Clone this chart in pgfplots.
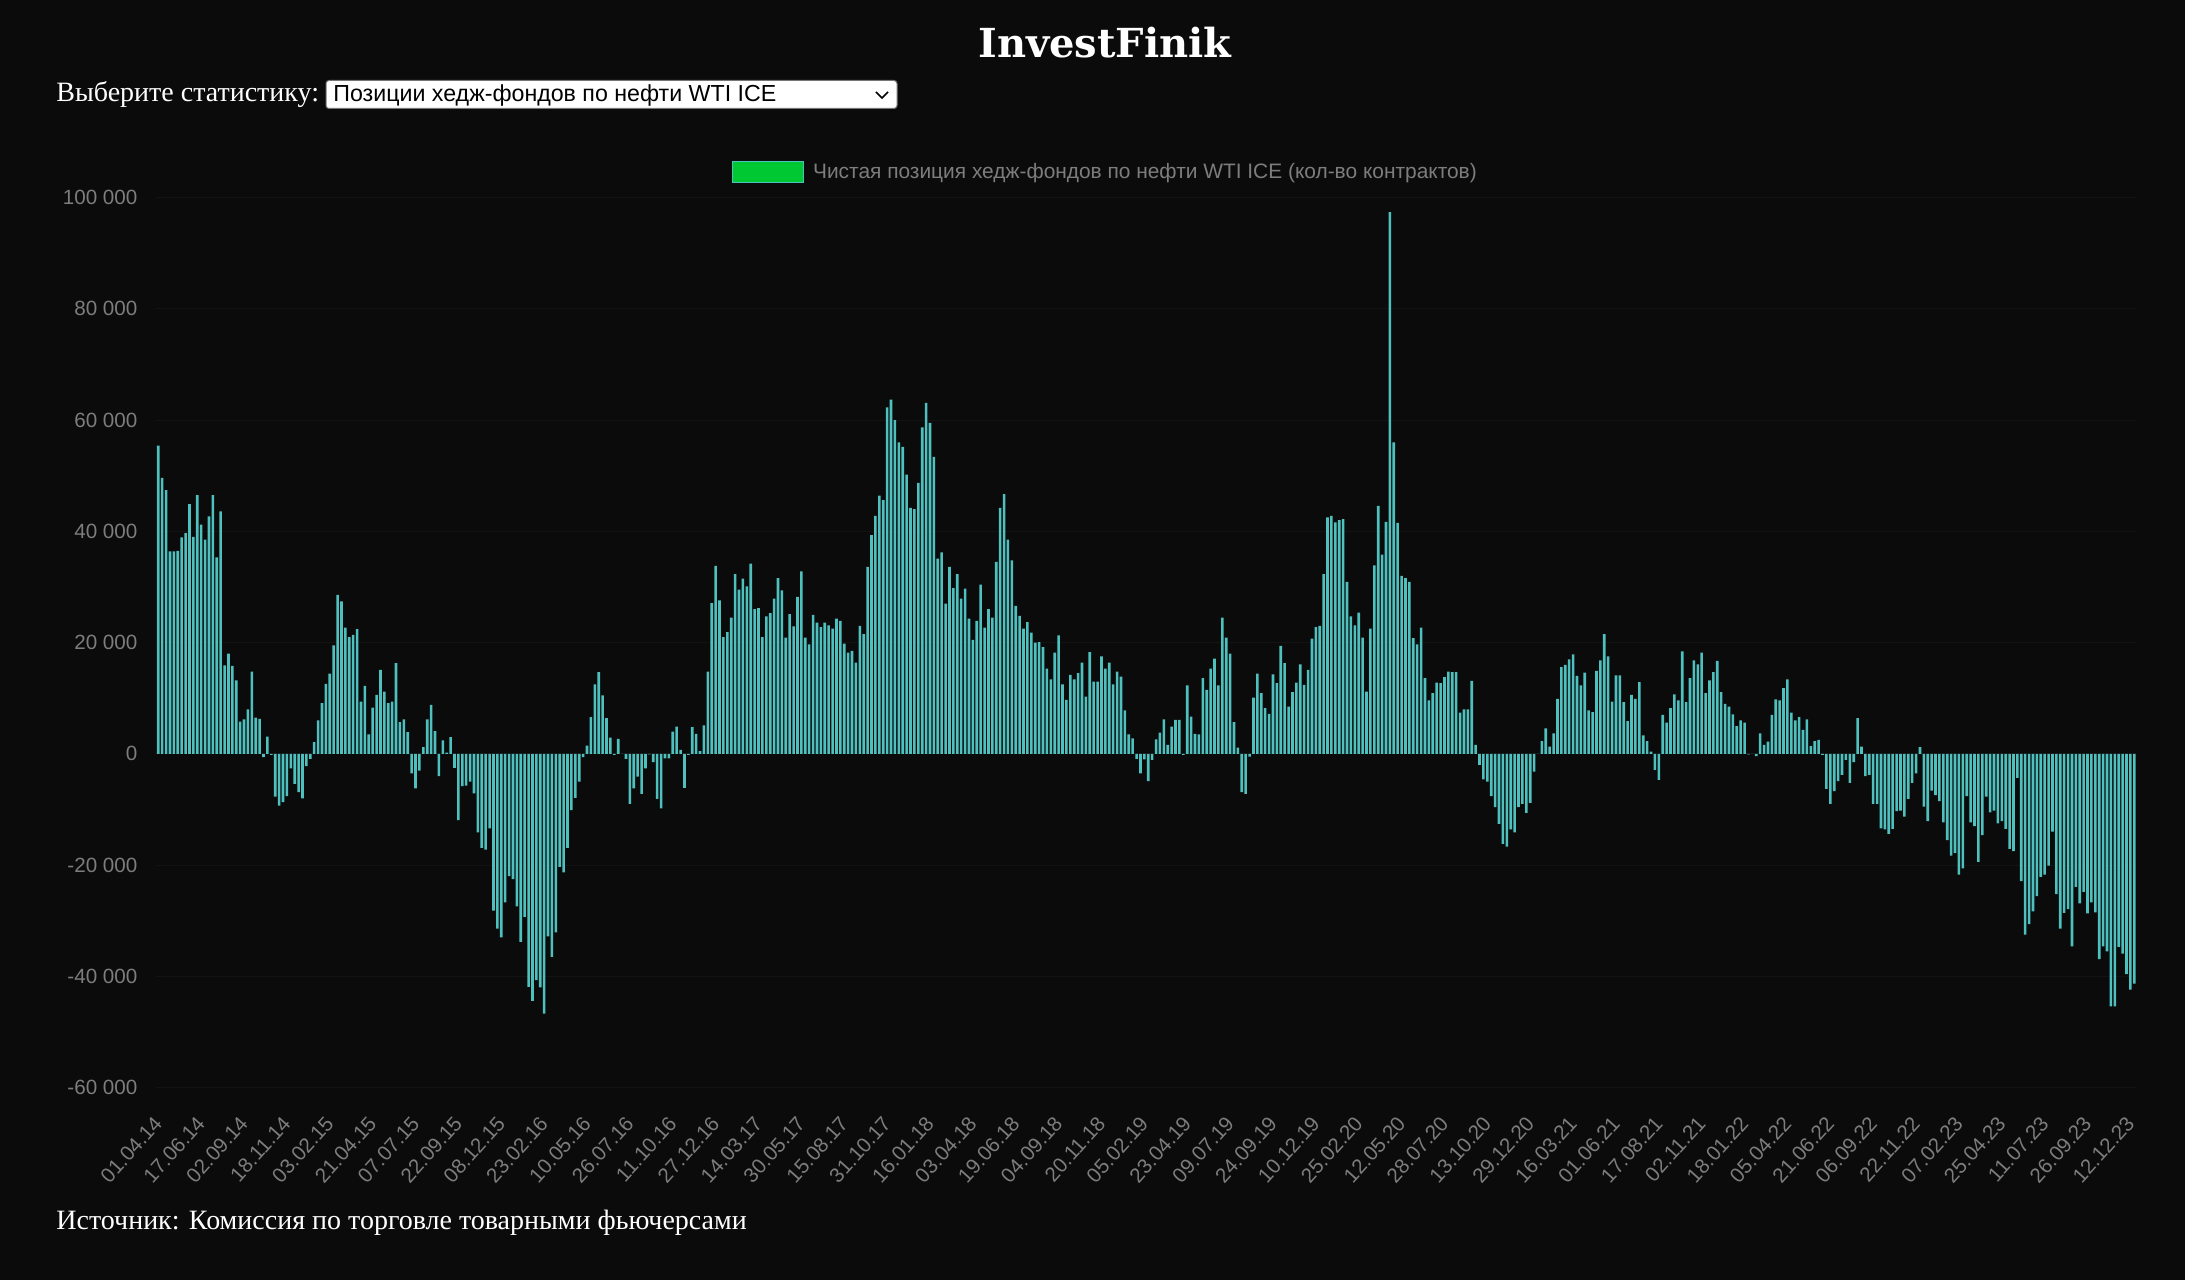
\documentclass[border=0pt]{standalone}
\usepackage{pgfplots}
\pgfplotsset{compat=1.18}
\usepackage{pgfplotstable}
\usepackage{fontspec}
\setmainfont{Liberation Serif}
\newfontfamily\arial{Liberation Sans}
\newfontfamily\titlefont{DejaVu Serif}
\definecolor{bg}{RGB}{11,11,11}
\definecolor{barc}{RGB}{78,192,190}
\definecolor{tickc}{RGB}{125,125,125}
\definecolor{gridc}{RGB}{19,19,19}
\definecolor{legg}{RGB}{0,200,50}
\definecolor{boxborder}{RGB}{118,118,118}

\pgfplotstableread[row sep=\\]{v\\
55400\\ 49600\\ 47400\\ 36400\\ 36400\\ 36500\\ 38900\\ 39700\\ 44900\\ 39000\\
46500\\ 41200\\ 38500\\ 42700\\ 46500\\ 35300\\ 43600\\ 15900\\ 18000\\ 15800\\
13200\\ 5800\\ 6200\\ 8000\\ 14800\\ 6500\\ 6300\\ -600\\ 3100\\ -200\\
-7700\\ -9300\\ -8700\\ -7600\\ -2600\\ -5400\\ -6900\\ -8000\\ -2200\\ -900\\
2100\\ 6000\\ 9100\\ 12600\\ 14400\\ 19500\\ 28600\\ 27400\\ 22700\\ 21000\\
21400\\ 22400\\ 9400\\ 12200\\ 3500\\ 8300\\ 10600\\ 15100\\ 11200\\ 9100\\
9400\\ 16300\\ 5700\\ 6200\\ 3900\\ -3500\\ -6200\\ -3000\\ 1200\\ 6200\\
8800\\ 4100\\ -4000\\ 2400\\ 200\\ 3000\\ -2500\\ -11900\\ -5800\\ -5700\\
-5000\\ -7100\\ -14100\\ -16900\\ -17200\\ -13400\\ -28200\\ -31400\\ -33000\\ -26700\\
-22000\\ -22500\\ -27400\\ -33800\\ -29300\\ -41900\\ -44400\\ -40700\\ -42000\\ -46700\\
-32800\\ -36500\\ -32100\\ -20300\\ -21300\\ -16900\\ -10100\\ -7900\\ -5000\\ -600\\
1500\\ 6600\\ 12500\\ 14700\\ 10500\\ 6400\\ 2900\\ -200\\ 2700\\ 0\\
-900\\ -9000\\ -6200\\ -4100\\ -7200\\ -2600\\ -100\\ -1500\\ -8100\\ -9800\\
-800\\ -800\\ 4000\\ 4900\\ 700\\ -6100\\ -200\\ 4800\\ 3600\\ 500\\
5100\\ 14800\\ 27100\\ 33800\\ 27600\\ 21000\\ 21900\\ 24500\\ 32300\\ 29500\\
31500\\ 30100\\ 34200\\ 26000\\ 26200\\ 21000\\ 24700\\ 25300\\ 27900\\ 31600\\
29400\\ 20900\\ 25100\\ 22900\\ 28200\\ 32800\\ 20900\\ 19700\\ 25000\\ 23600\\
22800\\ 23600\\ 23100\\ 22500\\ 24300\\ 23900\\ 19800\\ 18200\\ 18500\\ 16400\\
23000\\ 21500\\ 33600\\ 39300\\ 42800\\ 46400\\ 45600\\ 62300\\ 63700\\ 60000\\
56000\\ 55200\\ 50200\\ 44200\\ 44000\\ 48700\\ 58700\\ 63100\\ 59500\\ 53400\\
35100\\ 36200\\ 27000\\ 33600\\ 29800\\ 32300\\ 27900\\ 29700\\ 24300\\ 20500\\
23900\\ 30400\\ 22700\\ 26000\\ 24500\\ 34500\\ 44200\\ 46700\\ 38500\\ 34800\\
26600\\ 24800\\ 22500\\ 23700\\ 21800\\ 20000\\ 20100\\ 19200\\ 15300\\ 13400\\
18200\\ 21300\\ 12500\\ 9700\\ 14200\\ 13400\\ 14500\\ 16400\\ 10300\\ 18300\\
13000\\ 13000\\ 17500\\ 15300\\ 16400\\ 12500\\ 14800\\ 13900\\ 7800\\ 3500\\
2800\\ -900\\ -3500\\ -1000\\ -4900\\ -1100\\ 2600\\ 3800\\ 6200\\ 1600\\
4900\\ 6100\\ 6100\\ -200\\ 12300\\ 6700\\ 3600\\ 3500\\ 13600\\ 11500\\
15300\\ 17100\\ 12300\\ 24500\\ 20900\\ 18000\\ 5700\\ 1100\\ -6900\\ -7200\\
-500\\ 10100\\ 14400\\ 10900\\ 8200\\ 7200\\ 14300\\ 12700\\ 19400\\ 16300\\
8500\\ 11100\\ 12800\\ 16100\\ 12400\\ 15100\\ 20700\\ 22800\\ 23000\\ 32300\\
42500\\ 42800\\ 41600\\ 42000\\ 42200\\ 30900\\ 24700\\ 23100\\ 25400\\ 20900\\
11200\\ 22500\\ 33900\\ 44600\\ 35800\\ 41700\\ 97400\\ 56000\\ 41500\\ 32000\\
31600\\ 30900\\ 20800\\ 19700\\ 22700\\ 13600\\ 9600\\ 10900\\ 12800\\ 12700\\
13800\\ 14800\\ 14700\\ 14700\\ 7400\\ 8000\\ 8000\\ 13100\\ 1600\\ -2000\\
-4600\\ -5000\\ -7600\\ -9600\\ -12600\\ -16200\\ -16700\\ -13600\\ -14100\\ -9600\\
-9000\\ -10600\\ -8800\\ -3200\\ 0\\ 2300\\ 4600\\ 1300\\ 3700\\ 9900\\
15600\\ 16000\\ 17000\\ 17900\\ 14000\\ 12300\\ 14600\\ 7800\\ 7500\\ 14900\\
16800\\ 21500\\ 17500\\ 9400\\ 14100\\ 14100\\ 9300\\ 5900\\ 10600\\ 9900\\
12900\\ 3300\\ 2300\\ 400\\ -2900\\ -4700\\ 7000\\ 5600\\ 8200\\ 10700\\
9600\\ 18400\\ 9300\\ 13600\\ 16800\\ 16100\\ 18200\\ 10900\\ 13200\\ 14700\\
16700\\ 11100\\ 9000\\ 8500\\ 7100\\ 5000\\ 6000\\ 5600\\ -100\\ 0\\
-400\\ 3700\\ 1600\\ 2200\\ 7000\\ 9800\\ 9600\\ 11800\\ 13400\\ 7400\\
6000\\ 6600\\ 4300\\ 6200\\ 1400\\ 2300\\ 2500\\ -200\\ -6300\\ -9000\\
-6700\\ -4900\\ -3800\\ -1100\\ -5200\\ -1500\\ 6400\\ 1300\\ -4000\\ -3800\\
-9000\\ -9000\\ -13400\\ -13600\\ -14400\\ -13500\\ -10300\\ -10200\\ -11300\\ -8100\\
-5200\\ -3500\\ 1200\\ -9500\\ -12100\\ -6600\\ -7400\\ -8500\\ -12300\\ -15500\\
-18300\\ -17800\\ -21700\\ -20600\\ -7600\\ -12300\\ -13000\\ -19400\\ -14600\\ -7700\\
-10500\\ -10200\\ -12500\\ -12100\\ -13500\\ -17100\\ -17500\\ -4300\\ -22900\\ -32500\\
-30600\\ -28300\\ -25600\\ -22100\\ -21700\\ -20100\\ -14000\\ -25200\\ -31400\\ -28600\\
-27900\\ -34600\\ -23900\\ -26900\\ -24800\\ -28700\\ -26700\\ -28500\\ -36900\\ -34600\\
-35500\\ -45400\\ -45400\\ -34700\\ -35900\\ -39600\\ -42400\\ -41300\\
}\netdata

\begin{document}
\begin{tikzpicture}
\begin{scope}[x=0.5pt,y=0.5pt]
\useasboundingbox (0,0) rectangle (2185,1280);
\fill[bg] (0,0) rectangle (2185,1280);
\node[text=white, font=\titlefont\bfseries\fontsize{20}{24}\selectfont] at (1105,1237) {InvestFinik};
\node[text=white, anchor=west, inner sep=0pt, font=\fontsize{14}{17}\selectfont] at (56,1185) {Выберите статистику:};
\draw[fill=white, draw=boxborder, rounded corners=1.5pt, line width=0.5pt] (326,1199.5) rectangle (897,1171.5);
\node[anchor=west, inner sep=0pt, text=black, font=\arial\fontsize{11.6}{14}\selectfont] at (333,1184) {Позиции хедж-фондов по нефти WTI ICE};
\draw[line width=0.8pt, black] (876,1188) -- (882,1182) -- (888,1188);
\node[text=white, anchor=west, inner sep=0pt, font=\fontsize{14}{17}\selectfont] at (56,57) {Источник: Комиссия по торговле товарными фьючерсами};
\end{scope}

\begin{axis}[
  at={(78.175pt,96.2pt)}, anchor=south west,
  width=989.95pt, height=445pt, scale only axis,
  xmin=-0.5, xmax=507.5, ymin=-60000, ymax=100000,
  scaled y ticks=false,
  ybar, bar width=1.3pt,
  axis line style={draw=none},
  tick style={draw=none},
  major tick length=0pt,
  ytick={-60000,-40000,-20000,0,20000,40000,60000,80000,100000},
  yticklabels={-60 000,-40 000,-20 000,0,20 000,40 000,60 000,80 000,100 000},
  xtick={0,11,...,506},
  xticklabels={01.04.14,17.06.14,02.09.14,18.11.14,03.02.15,21.04.15,07.07.15,22.09.15,08.12.15,23.02.16,10.05.16,26.07.16,11.10.16,27.12.16,14.03.17,30.05.17,15.08.17,31.10.17,16.01.18,03.04.18,19.06.18,04.09.18,20.11.18,05.02.19,23.04.19,09.07.19,24.09.19,10.12.19,25.02.20,12.05.20,28.07.20,13.10.20,29.12.20,16.03.21,01.06.21,17.08.21,02.11.21,18.01.22,05.04.22,21.06.22,06.09.22,22.11.22,07.02.23,25.04.23,11.07.23,26.09.23,12.12.23},
  ymajorgrids, major grid style={gridc, line width=0.5pt},
  ticklabel style={font=\arial\fontsize{10.3}{12}\selectfont, text=tickc},
  yticklabel style={anchor=east, inner sep=0pt, xshift=-9.3pt},
  xticklabel style={yshift=-16pt, rotate=48, anchor=east, inner sep=0pt},
  legend style={at={(axis description cs:0.2907,1.0288)}, anchor=west, draw=none, fill=none, inner sep=0pt, outer sep=0pt, font=\arial\fontsize{10.45}{12}\selectfont, text=tickc, nodes={inner sep=0pt}, column sep=4.5pt},
]
\addplot[fill=barc, draw=none, bar width=1.3pt,
  legend image code/.code={\draw[fill=legg, draw=barc, line width=0.6pt] (0pt,-5.1pt) rectangle (35.5pt,5.4pt);}]
  table[x expr=\coordindex, y=v]{\netdata};
\addlegendentry{Чистая позиция хедж-фондов по нефти WTI ICE (кол-во контрактов)}
\end{axis}
\end{tikzpicture}
\end{document}
